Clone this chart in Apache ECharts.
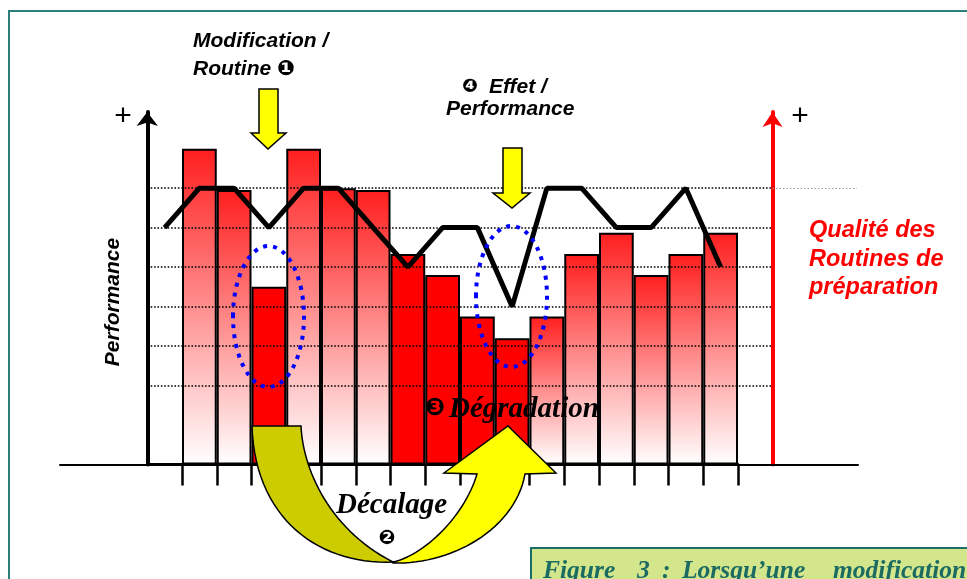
<!DOCTYPE html>
<html><head><meta charset="utf-8">
<script src="https://cdn.jsdelivr.net/npm/echarts@6/dist/echarts.min.js"></script>
<style>html,body{margin:0;padding:0;background:#fff}#c{width:967px;height:579px}</style>
</head><body><div id="c"></div>
<script>
// ---- data ----
const categories = ['t0','t1','t2','t3','t4','t5','t6','t7','t8','t9','t10','t11','t12','t13','t14','t15','t16'];
const barValues = [null, 8, 6.95, 4.5, 8, 7, 6.95, 5.33, 4.8, 3.75, 3.2, 3.75, 5.33, 5.87, 4.8, 5.33, 5.87];
const lineValues = [6, 7, 7, 6, 7, 7, 6, 5, 6, 6, 4, 7, 7, 6, 6, 7, 5];
const gridLevels = [2, 3, 4, 5, 6, 7];
const extendedLevel = [7];
const solidBarIndex = [3, 7, 8, 9, 10];

// ---- styles ----
const gradientFill = {type:'linear', x:0, y:0, x2:0, y2:1,
  colorStops:[{offset:0, color:'#ff1e1e'}, {offset:1, color:'#ffffff'}]};
const SANS = '"Liberation Sans", Arial, "DejaVu Sans", sans-serif';
const SERIF = '"Liberation Serif", "Times New Roman", "DejaVu Serif", serif';
const YMAX = 8.93, BOTTOM = 114.5, TOP = 579 - BOTTOM - YMAX * 39.48;

const barData = barValues.map((v, i) => v == null ? '-' : {
  value: v,
  itemStyle: {color: solidBarIndex.includes(i) ? '#ff0000' : gradientFill}
});

// decorative curve helper (cubic bezier sampled into polygon points)
function cubic(p0, p1, p2, p3, n) {
  const pts = [];
  for (let k = 0; k <= n; k++) {
    const t = k / n, u = 1 - t;
    pts.push([u*u*u*p0[0] + 3*u*u*t*p1[0] + 3*u*t*t*p2[0] + t*t*t*p3[0],
              u*u*u*p0[1] + 3*u*u*t*p1[1] + 3*u*t*t*p2[1] + t*t*t*p3[1]]);
  }
  return pts;
}
const leftCrescent = [[252,426]].concat(
  cubic([301,426],[303,470],[330,530],[393,562],30),
  cubic([393,562],[320,565],[255,520],[252,426],30));
const rightArrow = cubic([393,562],[425,555],[465,515],[477,474],30)
  .concat([[444,473],[508,426],[556,473]],
  cubic([525,474],[515,530],[450,565],[393,563],30));

const chart = echarts.init(document.getElementById('c'), null, {renderer:'canvas'});

function txt(text, x, y, opt) {
  return {type:'text', x:x, y:y, z:20, style: Object.assign({
    text: text, fontFamily: SANS, fontSize: 21, fontWeight:'bold', fontStyle:'italic',
    fill:'#000', textAlign:'left', textVerticalAlign:'middle'}, opt || {})};
}
const CAP = {fontFamily:SERIF, fontSize:25.5, fill:'#1b6b63'};

const option = {
  animation: false,
  backgroundColor: '#ffffff',
  grid: [
    {left:147.25, right:229, top:TOP, bottom:BOTTOM},
    {left:147.25, right:194.5, top:TOP, bottom:BOTTOM},
    {left:772.5, right:110, top:TOP, bottom:BOTTOM},
    {left:60, right:109, top:TOP, bottom:BOTTOM}
  ],
  xAxis: [
    {type:'category', gridIndex:0, data:categories, boundaryGap:true,
      axisLine:{show:true, onZero:false, lineStyle:{color:'#000', width:3}},
      axisTick:{show:true, inside:false, length:21, interval:(i) => i >= 1 && i <= 16,
        lineStyle:{color:'#000', width:2.5}},
      axisLabel:{show:false}, splitLine:{show:false}},
    {type:'value', gridIndex:1, min:0, max:1, show:false},
    {type:'value', gridIndex:2, min:0, max:1, show:false},
    {type:'value', gridIndex:3, min:0, max:1,
      axisLine:{show:true, onZero:false, lineStyle:{color:'#000', width:2}},
      axisTick:{show:false}, axisLabel:{show:false}, splitLine:{show:false}}
  ],
  yAxis: [
    {type:'value', gridIndex:0, min:0, max:YMAX,
      axisLine:{show:true, onZero:false, symbol:['none','arrow'], symbolSize:[16,14],
        lineStyle:{color:'#000', width:4}},
      axisTick:{show:false}, axisLabel:{show:false}, splitLine:{show:false}},
    {type:'value', gridIndex:1, min:0, max:YMAX, position:'right',
      axisLine:{show:true, onZero:false, symbol:['none','arrow'], symbolSize:[15,15],
        lineStyle:{color:'#ff0000', width:4}},
      axisTick:{show:false}, axisLabel:{show:false}, splitLine:{show:false}},
    {type:'value', gridIndex:2, min:0, max:YMAX, show:false},
    {type:'value', gridIndex:3, min:0, max:YMAX, show:false}
  ],
  series: [
    {type:'line', xAxisIndex:1, yAxisIndex:1, data:[], z:1, silent:true,
      markLine:{silent:true, symbol:['none','none'], label:{show:false},
        lineStyle:{color:'#000', width:1.6, type:[1.6, 1.8]},
        data: gridLevels.map(v => ({yAxis:v}))}},
    {type:'line', xAxisIndex:2, yAxisIndex:2, data:[], z:1, silent:true,
      markLine:{silent:true, symbol:['none','none'], label:{show:false},
        lineStyle:{color:'#9a9a9a', width:1, type:[1.5, 2]},
        data: extendedLevel.map(v => ({yAxis:v}))}},
    {type:'bar', xAxisIndex:0, yAxisIndex:0, data:barData, barWidth:'100%', z:3,
      itemStyle:{borderColor:'#000', borderWidth:2}},
    {type:'line', xAxisIndex:0, yAxisIndex:0, data:lineValues, z:4, symbol:'none',
      lineStyle:{color:'#000', width:5}},
    {type:'line', xAxisIndex:3, yAxisIndex:3, data:[], z:1, silent:true}
  ],
  graphic: [
    {type:'rect', z:0, shape:{x:9, y:11, width:1000, height:600},
      style:{fill:'none', stroke:'#2b7f7a', lineWidth:2}},
    txt('+', 123, 117, {fontSize:30, fontWeight:'normal', fontStyle:'normal', textAlign:'center'}),
    txt('+', 800, 117, {fontSize:30, fontWeight:'normal', fontStyle:'normal', textAlign:'center'}),
    txt('Modification /', 193, 41),
    txt('Routine \u2776', 193, 69),
    txt('\u2779', 462, 87, {fontStyle:'normal', fontSize:19}),
    txt('Effet /', 489, 87),
    txt('Performance', 446, 109),
    {type:'text', x:113, y:302, rotation:Math.PI/2, z:20,
      style:{text:'Performance', fontFamily:SANS, fontSize:21, fontWeight:'bold', fontStyle:'italic',
        fill:'#000', textAlign:'center', textVerticalAlign:'middle'}},
    txt('Qualit\u00e9 des', 809, 231, {fill:'#ff0000', fontSize:23.5}),
    txt('Routines de', 809, 260, {fill:'#ff0000', fontSize:23.5}),
    txt('pr\u00e9paration', 809, 288, {fill:'#ff0000', fontSize:23.5}),
    {type:'polygon', z:15, shape:{points:[[259,89],[278,89],[278,133],[286,133],[268,149],[251,133],[259,133]]},
      style:{fill:'#ffff00', stroke:'#000', lineWidth:1.5}},
    {type:'polygon', z:15, shape:{points:[[503,148],[522,148],[522,193],[530,193],[512,208],[493,193],[503,193]]},
      style:{fill:'#ffff00', stroke:'#000', lineWidth:1.5}},
    {type:'ellipse', z:16, shape:{cx:268.5, cy:316.5, rx:35.5, ry:70.5},
      style:{fill:'none', stroke:'#0000ff', lineWidth:4, lineDash:[4,6]}},
    {type:'ellipse', z:16, shape:{cx:511.5, cy:296.5, rx:35.5, ry:70.5},
      style:{fill:'none', stroke:'#0000ff', lineWidth:4, lineDash:[4,6]}},
    {type:'polygon', z:17, shape:{points:leftCrescent},
      style:{fill:'#cccc00', stroke:'#000', lineWidth:1.5}},
    {type:'polygon', z:17, shape:{points:rightArrow},
      style:{fill:'#ffff00', stroke:'#000', lineWidth:1.5}},
    txt('\u2778', 435, 408, {fontStyle:'normal', fontSize:24, textAlign:'center'}),
    txt('D\u00e9gradation', 449, 410, {fontFamily:SERIF, fontSize:29}),
    txt('D\u00e9calage', 336, 506, {fontFamily:SERIF, fontSize:29}),
    txt('\u2777', 387, 538, {fontStyle:'normal', fontSize:20, textAlign:'center'}),
    {type:'rect', z:18, shape:{x:531, y:548, width:480, height:60},
      style:{fill:'#d3e68b', stroke:'#1b6e66', lineWidth:2}},
    txt('Figure', 543, 571.5, CAP),
    txt('3', 637, 571.5, CAP),
    txt(':', 662, 571.5, CAP),
    txt('Lorsqu\u2019une', 682, 571.5, CAP),
    txt('modification', 833, 571.5, CAP)
  ]
};
chart.setOption(option);
</script>
</body></html>
